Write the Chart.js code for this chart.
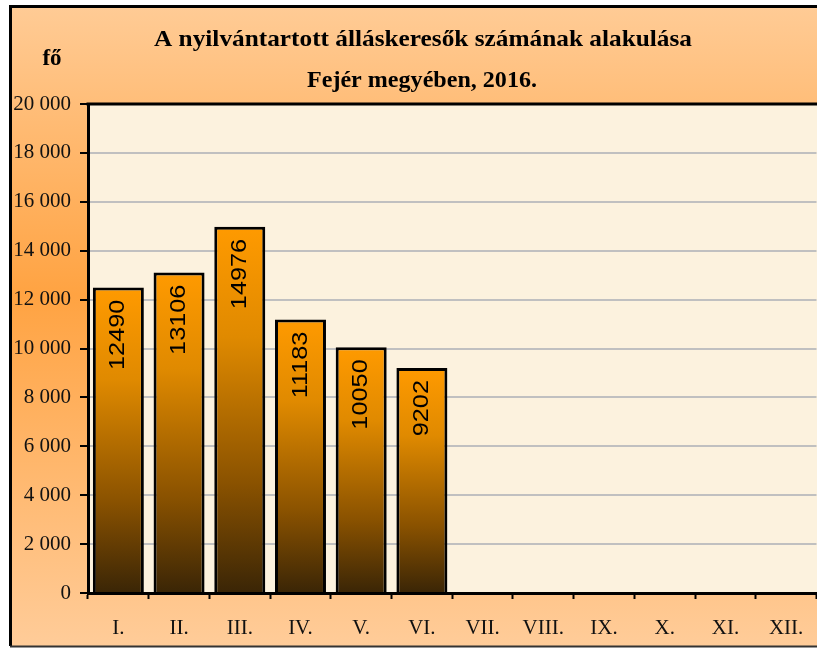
<!DOCTYPE html>
<html>
<head>
<meta charset="utf-8">
<script src="https://cdn.jsdelivr.net/npm/chart.js@4/dist/chart.umd.min.js"></script>
<style>
html,body{margin:0;padding:0;background:#fff;overflow:hidden;width:817px;height:648px;}
#wrap{position:absolute;left:0;top:0;width:830px;height:648px;}
</style>
</head>
<body>
<div id="wrap"><canvas id="c" width="830" height="648"></canvas></div>
<script>
const categories = ['I.','II.','III.','IV.','V.','VI.','VII.','VIII.','IX.','X.','XI.','XII.'];
const jobseekers = [12490, 13106, 14976, 11183, 10050, 9202, null, null, null, null, null, null];
const yTickValues = [0,2000,4000,6000,8000,10000,12000,14000,16000,18000,20000];
const yTickLabels = ['0','2 000','4 000','6 000','8 000','10 000','12 000','14 000','16 000','18 000','20 000'];
const titleLines = ['A nyilvántartott álláskeresők számának alakulása','Fejér megyében, 2016.'];
const unitLabel = 'fő';

const frame = {
  id:'frame',
  beforeDraw(chart){
    const c = chart.ctx, W = chart.width, H = chart.height;
    c.save();
    c.fillStyle = '#fff'; c.fillRect(0,0,W,H);
    const g = c.createLinearGradient(0,8,0,646);
    g.addColorStop(0,'#FFCB95');
    g.addColorStop(0.45,'#FFA342');
    g.addColorStop(1,'#FFCC99');
    c.fillStyle = g; c.fillRect(11,7,W,639);
    c.strokeStyle = '#000'; c.lineWidth = 3;
    c.beginPath(); c.moveTo(10.5,646); c.lineTo(10.5,6.5); c.lineTo(W+5,6.5); c.stroke();
    c.strokeStyle = '#333'; c.lineWidth = 2;
    c.beginPath(); c.moveTo(10,646.5); c.lineTo(W+5,646.5); c.stroke();
    const a = chart.chartArea;
    c.fillStyle = '#FCF2DE'; c.fillRect(a.left,a.top,W-a.left,a.bottom-a.top);
    // titles
    c.fillStyle = '#000'; c.textAlign = 'center'; c.textBaseline = 'alphabetic';
    c.font = 'bold 23px "Liberation Serif", "Times New Roman", serif';
    const targets = [[423,46,538],[422,87,230]];
    titleLines.forEach((t,i)=>{
      const [x,y,w] = targets[i];
      const mw = c.measureText(t).width;
      c.save(); c.translate(x,y); c.scale(w/mw,1); c.fillText(t,0,0); c.restore();
    });
    c.font = 'bold 23px "Liberation Serif", "Times New Roman", serif';
    c.fillText(unitLabel,52,65);
    c.restore();
  },
  afterDraw(chart){
    const c = chart.ctx, a = chart.chartArea;
    c.save();
    c.strokeStyle = '#000'; c.lineWidth = 3;
    c.beginPath(); c.moveTo(a.left-1.5,a.top); c.lineTo(chart.width+5,a.top); c.stroke();
    c.restore();
  }
};

const barLabels = {
  id:'barLabels',
  afterDatasetsDraw(chart){
    const c = chart.ctx;
    const meta = chart.getDatasetMeta(0);
    c.save();
    c.fillStyle = '#000';
    c.font = '22px "Liberation Sans", Arial, sans-serif';
    c.textAlign = 'right'; c.textBaseline = 'middle';
    meta.data.forEach((bar,i)=>{
      const v = jobseekers[i];
      if (v == null) return;
      c.save();
      c.translate(bar.x, bar.y+12);
      c.rotate(-Math.PI/2);
      c.scale(1.15,1);
      c.fillText(String(v),0,0);
      c.restore();
    });
    c.restore();
  }
};

new Chart(document.getElementById('c'), {
  type:'bar',
  data:{
    labels: categories,
    datasets:[{
      data: jobseekers,
      borderColor:'#000',
      borderWidth:3,
      borderSkipped:'bottom',
      categoryPercentage:1,
      barPercentage:0.84,
      backgroundColor:(ctx)=>{
        const chart = ctx.chart;
        if (!chart.chartArea || ctx.type !== 'data' || ctx.raw == null) return '#FF9900';
        const ys = chart.scales.y;
        const top = ys.getPixelForValue(ctx.raw), base = ys.getPixelForValue(0);
        const g = chart.ctx.createLinearGradient(0,top,0,base);
        g.addColorStop(0,'#FF9A00');
        g.addColorStop(0.3,'#E08A00');
        g.addColorStop(0.7,'#8A5200');
        g.addColorStop(1,'#3A2506');
        return g;
      }
    }]
  },
  options:{
    responsive:false,
    animation:false,
    events:[],
    layout:{padding:{top:104,right:13.5,left:0,bottom:0}},
    plugins:{legend:{display:false},tooltip:{enabled:false},title:{display:false}},
    scales:{
      x:{
        afterFit(s){ s.height = 55; },
        grid:{display:true,drawOnChartArea:false,drawTicks:true,tickLength:6,tickColor:'#000',tickWidth:2,offset:true},
        border:{display:true,color:'#000',width:3},
        ticks:{color:'#111',padding:17,font:{family:'"Liberation Serif", "Times New Roman", serif',size:21},maxRotation:0,autoSkip:false}
      },
      y:{
        min:0,max:20000,
        afterFit(s){ s.width = 88; },
        afterBuildTicks(s){ s.ticks = yTickValues.map(v=>({value:v})); },
        grid:{color:'#C0C0C0',lineWidth:2,tickColor:'#000',tickWidth:2,tickLength:8,drawTicks:true},
        border:{display:true,color:'#000',width:3},
        ticks:{color:'#111',padding:9,font:{family:'"Liberation Serif", "Times New Roman", serif',size:21},
          callback:(v)=>{ const i = yTickValues.indexOf(v); return i>=0 ? yTickLabels[i] : ''; }}
      }
    }
  },
  plugins:[frame,barLabels]
});
</script>
</body>
</html>
